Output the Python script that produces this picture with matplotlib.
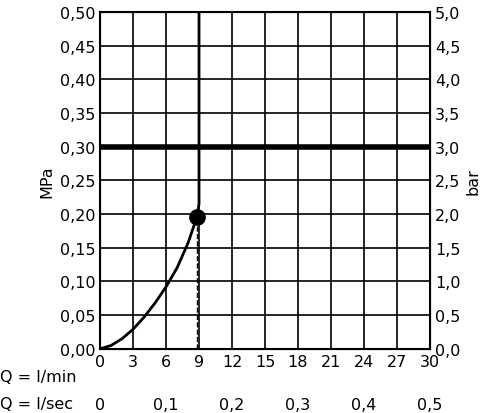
import matplotlib
matplotlib.use("Agg")
import matplotlib.pyplot as plt
import numpy as np

curve_q = [0, 1, 2, 3, 4, 5, 6, 7, 8, 8.8]
curve_p = [0, 0.005, 0.015, 0.029, 0.047, 0.068, 0.092, 0.12, 0.157, 0.195]
vert_q = [8.8, 9.0, 9.0]
vert_p = [0.195, 0.215, 0.50]
dot_q, dot_p = 8.8, 0.195
lmin_ticks = [0, 3, 6, 9, 12, 15, 18, 21, 24, 27, 30]
lsec_labels = ["0", "0,1", "0,2", "0,3", "0,4", "0,5"]
mpa_ticks = np.round(np.arange(0, 0.501, 0.05), 2)

fig = plt.figure(figsize=(4.93, 4.14), dpi=100)
ax = fig.add_axes([0.203, 0.155, 0.669, 0.814])
ax.set_xlim(0, 30); ax.set_ylim(0, 0.5)
ax.set_xticks(lmin_ticks); ax.set_yticks(mpa_ticks)
ax.grid(True, color="black", lw=1.2)
for s in ax.spines.values(): s.set_linewidth(1.5)
ax.tick_params(length=0, labelsize=11.5)
ax.set_yticklabels([f"{v:.2f}".replace(".", ",") for v in mpa_ticks])
ax.set_xticklabels([str(v) for v in lmin_ticks])
ax.set_ylabel("MPa", fontsize=11.5)
ax.axhline(0.30, color="black", lw=4)
ax.plot(curve_q, curve_p, color="black", lw=2)
ax.plot(vert_q, vert_p, color="black", lw=2)
ax.plot([dot_q, dot_q], [0, dot_p], color="black", lw=1, ls="--")
ax.plot(dot_q, dot_p, "o", color="black", ms=11)

ax2 = ax.twinx()
ax2.set_ylim(0, 5)
ax2.set_yticks(np.arange(0, 5.01, 0.5))
ax2.set_yticklabels([f"{v:.1f}".replace(".", ",") for v in np.arange(0, 5.01, 0.5)])
ax2.tick_params(length=0, labelsize=11.5)
ax2.set_ylabel("bar", fontsize=11.5)

for i, lab in enumerate(lsec_labels):
    ax.text(i * 6, -0.082, lab, ha="center", va="center", fontsize=11.5, clip_on=False)
fig.text(0.0, (414 - 378) / 414, "Q = l/min", fontsize=11.5, va="center")
fig.text(0.0, (414 - 405) / 414, "Q = l/sec", fontsize=11.5, va="center")
fig.savefig("out.png", dpi=100)
